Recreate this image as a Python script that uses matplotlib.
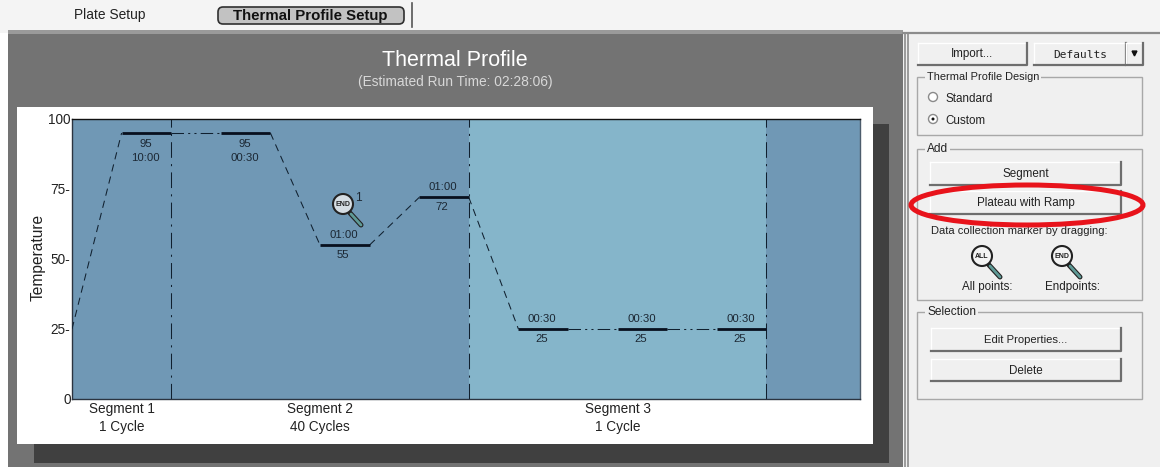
import matplotlib
matplotlib.use('Agg')
import matplotlib.pyplot as plt
from matplotlib.patches import Rectangle, Ellipse, Circle, FancyBboxPatch

plt.rcParams['font.family'] = ['Liberation Sans', 'DejaVu Sans']

# profile data, x is in plateau-width steps
ramp_x = [0, 1, 4, 5, 6, 7, 8, 9]
ramp_temp = [25, 95, 95, 55, 55, 72, 72, 25]
plateau_start = [1, 3, 5, 7, 9, 11, 13]
plateau_end = [2, 4, 6, 8, 10, 12, 14]
plateau_temp = [95, 95, 55, 72, 25, 25, 25]
plateau_time = ['10:00', '00:30', '01:00', '01:00', '00:30', '00:30', '00:30']
time_above = [False, False, True, True, True, True, True]
hold_x = [[2, 3], [10, 11], [12, 13]]
hold_temp = [[95, 95], [25, 25], [25, 25]]
segment_edges = [2, 8, 14]
segment_names = ['Segment 1', 'Segment 2', 'Segment 3']
segment_cycles = ['1 Cycle', '40 Cycles', '1 Cycle']
segment_centers = [1, 5, 11]
y_ticks = [0, 25, 50, 75, 100]
y_tick_labels = ['0', '25-', '50-', '75-', '100']

W, H = 1160, 467
DARK_BLUE = '#7098b5'
LIGHT_BLUE = '#85b5ca'
PANEL = '#f0f0f0'
TXT = '#222222'

fig = plt.figure(figsize=(W / 100, H / 100), dpi=100, facecolor='white')

# window chrome, drawn in pixel coordinates
ui = fig.add_axes([0, 0, 1, 1], zorder=0)
ui.set_xlim(0, W)
ui.set_ylim(H, 0)
ui.axis('off')


def box(x0, y0, x1, y1, color, ax=ui, z=1):
    ax.add_patch(Rectangle((x0, y0), x1 - x0, y1 - y0, fc=color, ec='none', zorder=z))


def button(x0, y0, x1, y1, label, fs=8.4, family=None):
    box(x0, y0, x1, y1, PANEL, z=2)
    ui.plot([x0, x1], [y0, y0], color='white', lw=1, zorder=3)
    ui.plot([x0, x0], [y0, y1], color='white', lw=1, zorder=3)
    ui.plot([x0, x1, x1], [y1, y1, y0], color='#6e6e6e', lw=1.6, zorder=3)
    ui.text((x0 + x1) / 2, (y0 + y1) / 2 + 0.5, label, ha='center', va='center',
            fontsize=fs, color=TXT, zorder=4, family=family or plt.rcParams['font.family'])


def group(x0, y0, x1, y1, label, fs=8.6):
    ui.add_patch(Rectangle((x0, y0), x1 - x0, y1 - y0, fc='none', ec='#a8a8a8', lw=1, zorder=2))
    ui.text(x0 + 10, y0, label, ha='left', va='center', fontsize=fs, color=TXT, zorder=4,
            bbox=dict(fc=PANEL, ec='none', pad=1.2))


def magnifier(ax, cx, cy, label, lens='#f4f4f4', z=6):
    # handle first, lens on top
    ax.plot([cx + 7, cx + 18], [cy + 9, cy + 21], color='#222222', lw=3.6, zorder=z, solid_capstyle='round')
    ax.plot([cx + 8, cx + 18], [cy + 10, cy + 21], color='#5f9a96', lw=2, zorder=z, solid_capstyle='round')
    ax.add_patch(Circle((cx, cy), 10, fc=lens, ec='#222222', lw=1.5, zorder=z + 1))
    ax.text(cx, cy, label, ha='center', va='center', fontsize=5, fontweight='bold',
            color='#222222', zorder=z + 2)


# top tabs
box(0, 0, W, 33, '#f4f4f4')
box(8, 33, 903, H, '#737373')
box(8, 30, 903, 34, '#9a9a9a')
box(34, 124, 889, 463, '#404040')
box(17, 107, 873, 444, 'white', z=2)
box(903, 34, W, H, PANEL)
ui.plot([905, 905], [34, H], color='#8c8c8c', lw=1.2, zorder=3)
ui.plot([908, 908], [34, H], color='#8c8c8c', lw=1.2, zorder=3)
ui.plot([903, W], [33, 33], color='#8c8c8c', lw=1.6, zorder=3)
ui.text(110, 15, 'Plate Setup', ha='center', va='center', fontsize=9.9, color=TXT, zorder=4)
ui.add_patch(FancyBboxPatch((218, 7), 186, 17, boxstyle='round,pad=0,rounding_size=5',
                            fc='#c2c2c2', ec='#303030', lw=1.2, zorder=3))
ui.text(310, 16, 'Thermal Profile Setup', ha='center', va='center', fontsize=10.8,
        fontweight='bold', color='#111111', zorder=4)
ui.plot([412, 412], [3, 27], color='#555555', lw=1.2, zorder=3)

ui.text(455, 61, 'Thermal Profile', ha='center', va='center', fontsize=15.5, color='white', zorder=4)
ui.text(455, 82, '(Estimated Run Time: 02:28:06)', ha='center', va='center', fontsize=9.9,
        color='#d8d8d8', zorder=4)

# right panel
button(918, 43, 1027, 65, 'Import...')
button(1034, 43, 1126, 65, 'Defaults', fs=8, family='DejaVu Sans Mono')
button(1126, 43, 1143, 65, '')
ui.plot([1134], [53], marker='v', ms=3.5, color='#111111', zorder=5)
group(917, 77, 1142, 135, 'Thermal Profile Design', fs=7.9)
ui.add_patch(Circle((933, 97), 4.5, fc='white', ec='#8a8a8a', lw=1, zorder=3))
ui.text(945, 99, 'Standard', ha='left', va='center', fontsize=8.4, color=TXT, zorder=4)
ui.add_patch(Circle((933, 119), 4.5, fc='white', ec='#8a8a8a', lw=1, zorder=3))
ui.add_patch(Circle((933, 119), 1.5, fc='#111111', ec='none', zorder=4))
ui.text(945, 121, 'Custom', ha='left', va='center', fontsize=8.4, color=TXT, zorder=4)
group(917, 149, 1142, 300, 'Add')
button(930, 162, 1121, 185, 'Segment')
button(930, 191, 1121, 214, 'Plateau with Ramp')
ui.text(1019, 231, 'Data collection marker by dragging:', ha='center', va='center',
        fontsize=8.0, color=TXT, zorder=4)
magnifier(ui, 982, 256, 'ALL')
magnifier(ui, 1062, 256, 'END')
ui.text(987, 287, 'All points:', ha='center', va='center', fontsize=8.4, color=TXT, zorder=4)
ui.text(1073, 287, 'Endpoints:', ha='center', va='center', fontsize=8.4, color=TXT, zorder=4)
group(917, 312, 1142, 399, 'Selection')
button(931, 328, 1121, 351, 'Edit Properties...', fs=8.1)
button(931, 359, 1121, 381, 'Delete')

# the chart
ax = fig.add_axes([72 / W, 1 - 399 / H, 788 / W, 280 / H], zorder=1)
ax.set_xlim(0, 788 / 49.6)
ax.set_ylim(0, 100)
ax.set_facecolor(DARK_BLUE)
ax.axvspan(segment_edges[1], segment_edges[2], color=LIGHT_BLUE, lw=0, zorder=0)
for spine in ax.spines.values():
    spine.set_color('#2b3440')
    spine.set_linewidth(1)
ax.spines['top'].set_color('#111111')
ax.spines['right'].set_color('#4d5c6c')

ax.set_xticks([])
ax.set_yticks(y_ticks)
ax.set_yticklabels(y_tick_labels, fontsize=9.8, color=TXT)
ax.tick_params(axis='y', length=0, pad=1)
ax.set_ylabel('Temperature', fontsize=11.2, color=TXT)
ax.yaxis.set_label_coords(-0.033, 0.507)

for edge in segment_edges:
    ax.axvline(edge, color='#10202f', lw=0.75, ls=(0, (15, 6, 2, 6)), zorder=2)

# ramps only, plateaus go on top
for i in range(0, len(ramp_x) - 1, 2):
    ax.plot(ramp_x[i:i + 2], ramp_temp[i:i + 2], color='#10202f', lw=0.75, ls=(0, (7, 5)), zorder=3)
for xs, ts in zip(hold_x, hold_temp):
    ax.plot(xs, ts, color='#10202f', lw=0.75, ls=(0, (12, 4, 2, 4, 2, 4)), zorder=3)

for x0, x1, temp, tm, above in zip(plateau_start, plateau_end, plateau_temp, plateau_time, time_above):
    ax.plot([x0, x1], [temp, temp], color='#08101e', lw=2, zorder=4, solid_capstyle='butt')
    mid = (x0 + x1) / 2
    if above:
        ax.annotate(tm, (mid, temp), xytext=(-1, 10), textcoords='offset pixels', ha='center',
                    va='center', fontsize=8.2, color='#1b2733', zorder=5)
        ax.annotate(str(temp), (mid, temp), xytext=(-2, -10), textcoords='offset pixels', ha='center',
                    va='center', fontsize=8.2, color='#1b2733', zorder=5)
    else:
        ax.annotate(str(temp), (mid, temp), xytext=(-1, -11), textcoords='offset pixels', ha='center',
                    va='center', fontsize=8.2, color='#1b2733', zorder=5)
        ax.annotate(tm, (mid, temp), xytext=(-1, -25), textcoords='offset pixels', ha='center',
                    va='center', fontsize=8.2, color='#1b2733', zorder=5)

for c, name, cyc in zip(segment_centers, segment_names, segment_cycles):
    ax.annotate(name, (c, 0), xytext=(0, -10), textcoords='offset pixels', ha='center',
                va='center', fontsize=9.8, color=TXT, annotation_clip=False)
    ax.annotate(cyc, (c, 0), xytext=(0, -28), textcoords='offset pixels', ha='center',
                va='center', fontsize=9.8, color=TXT, annotation_clip=False)

# overlay for things on top of the chart
top = fig.add_axes([0, 0, 1, 1], zorder=2)
top.set_xlim(0, W)
top.set_ylim(H, 0)
top.axis('off')
magnifier(top, 343, 204, 'END', lens='#d5dde3')
top.text(358, 198, '1', ha='center', va='center', fontsize=8.6, color='#1b2733')
top.add_patch(Ellipse((1027, 205), 232, 40, fc='none', ec='#e8131b', lw=3.6))

fig.savefig('out.png', dpi=100)
